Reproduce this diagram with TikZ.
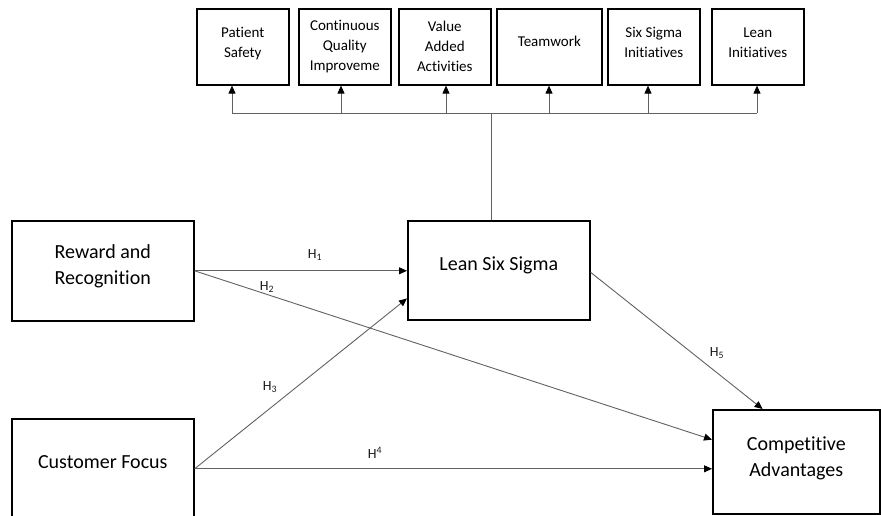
\documentclass[tikz,border=0pt]{standalone}
\usepackage{fontspec}
\setmainfont[Ligatures=NoCommon]{Carlito}
\usetikzlibrary{arrows.meta,calc}
\begin{document}
\begin{tikzpicture}[x=1pt,y=-1pt,
  bigbox/.style={draw=black,line width=1.6pt,fill=white,align=center,minimum width=182pt,minimum height=100pt,anchor=north west,inner sep=0pt,font=\fontsize{20}{26}\selectfont},
  topbox/.style={draw=black,line width=1.6pt,align=center,minimum height=76pt,minimum width=92pt,anchor=north west,inner sep=0pt,font=\fontsize{15}{20}\selectfont},
  conn/.style={draw=black!62,line width=0.9pt},
  arr/.style={conn,-{Triangle[length=8pt,width=7pt,color=black]}},
  hlab/.style={font=\fontsize{14}{16}\selectfont,inner sep=0pt,text=black!90}
]
\useasboundingbox (0,0) rectangle (881,515);
\clip (0,0) rectangle (881,515);

% top boxes
\node[topbox,text depth=9pt] (ps) at (196,8) {Patient\\Safety};
\node[topbox] (cq) at (298,8) {Continuous\\Quality\\Improveme};
\node[topbox] (va) at (398,8) {Value\\Added\\Activities};
\node[topbox,minimum width=105pt,text depth=12pt] (tw) at (496,8) {Teamwork};
\node[topbox,text depth=9pt] (ss) at (607,8) {Six Sigma\\Initiatives};
\node[topbox,text depth=9pt] (li) at (711,8) {Lean\\Initiatives};

% main boxes
\node[bigbox,text depth=12pt] (rr) at (11,220) {Reward and\\Recognition};
\node[bigbox] (cf) at (11,418) {\raisebox{0pt}[0pt][0pt]{Customer Focus}};
\node[bigbox,minimum height=99pt,text depth=14pt] (lss) at (407,220) {Lean Six Sigma};
\node[bigbox,minimum width=167pt,minimum height=104pt,text depth=11pt] (cmp) at (712,409) {Competitive\\Advantages};

% bus to top boxes
\coordinate (stemtop) at ($(lss.north west)!0.46!(lss.north east)$);
\coordinate (bj) at (stemtop |- 0,113);
\coordinate (b1) at (232,113);
\coordinate (b2) at (341,113);
\coordinate (b3) at (446,113);
\coordinate (b4) at (549,113);
\coordinate (b5) at (648,113);
\coordinate (b6) at (757,113);
\draw[conn] (stemtop) -- (bj);
\draw[conn] (b1) -- (b6);
\draw[arr] (b1) -- (b1 |- ps.south);
\draw[arr] (b2) -- (b2 |- cq.south);
\draw[arr] (b3) -- (b3 |- va.south);
\draw[arr] (b4) -- (b4 |- tw.south);
\draw[arr] (b5) -- (b5 |- ss.south);
\draw[arr] (b6) -- (b6 |- li.south);

% hypotheses
\draw[arr] (rr.east) -- (rr.east -| lss.west);
\draw[arr] (rr.east) -- ($(cmp.north west)!0.29!(cmp.south west)$);
\draw[arr] (cf.east) -- ($(lss.north west)!0.78!(lss.south west)$);
\draw[arr] (cf.east) -- (cf.east -| cmp.west);
\draw[arr] ($(lss.north east)!0.52!(lss.south east)$) -- ($(cmp.north west)!0.30!(cmp.north east)$);

\node[hlab] (h1) at (315,255) {H\textsubscript{1}};
\node[hlab] (h2) at (267,287) {H\textsubscript{2}};
\node[hlab] (h3) at (270,387) {H\textsubscript{3}};
\node[hlab] (h4) at (375,453) {H\textsuperscript{4}};
\node[hlab] (h5) at (717,353) {H\textsubscript{5}};
\end{tikzpicture}
\end{document}
